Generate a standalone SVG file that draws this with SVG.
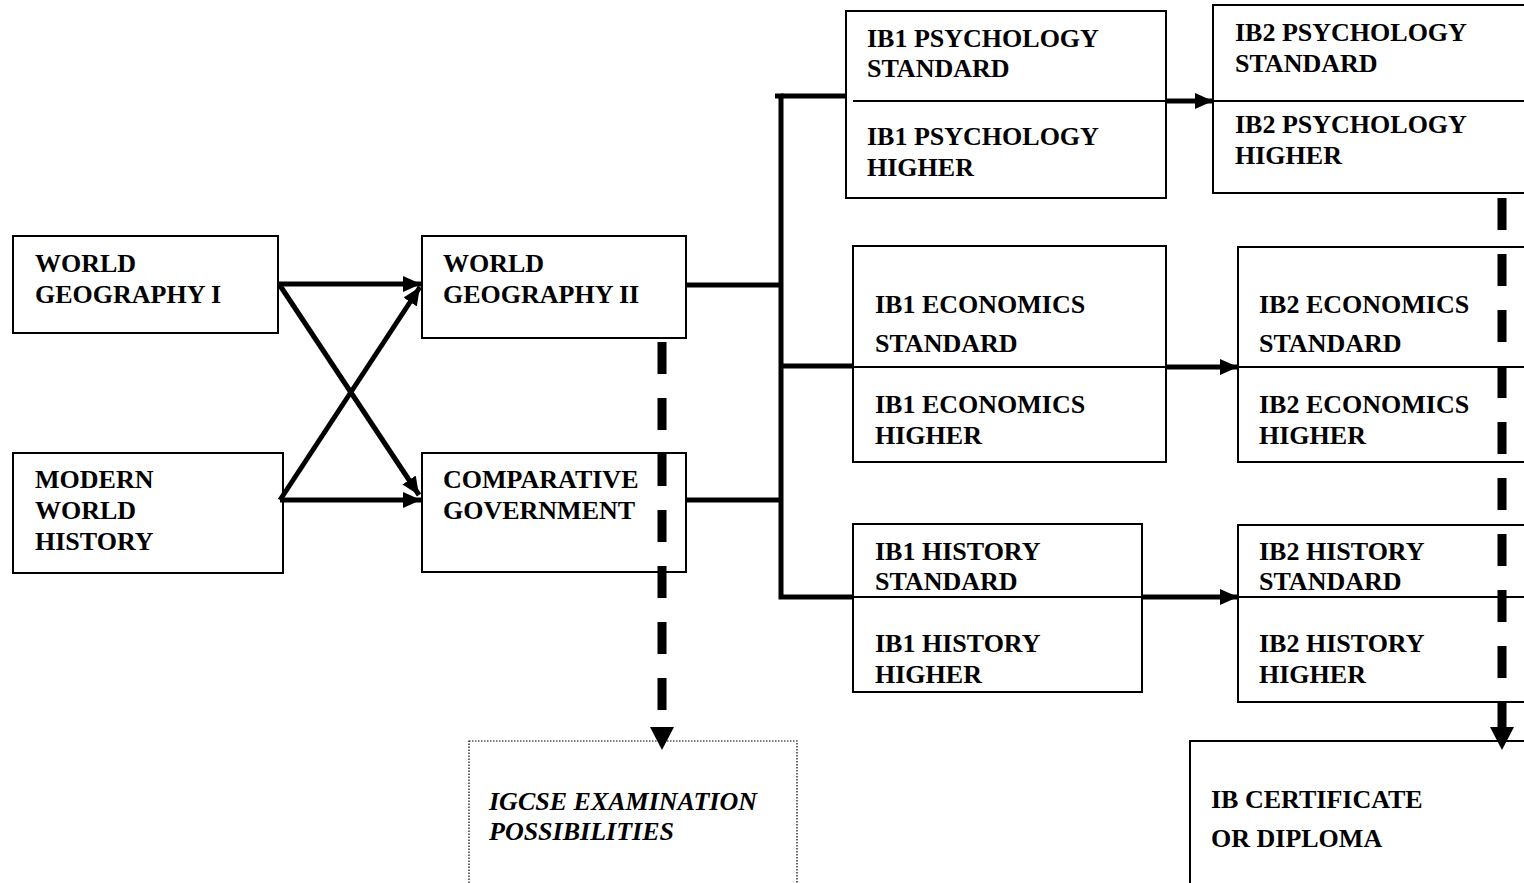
<svg xmlns="http://www.w3.org/2000/svg" width="1524" height="883" viewBox="0 0 1524 883">
<style>
.box{fill:#fff;stroke:#000;stroke-width:2}
.dot{fill:#fff;stroke:#000;stroke-width:1.2;stroke-dasharray:1.5 1.5}
.div{stroke:#000;stroke-width:2;fill:none}
.t{font-family:"Liberation Serif","Times New Roman",serif;font-weight:bold;font-size:26px;fill:#000}
.ti{font-style:italic}
.c{stroke:#000;stroke-width:5;fill:none}
.d{stroke:#000;stroke-width:9;fill:none;stroke-dasharray:32 24}
</style>
<defs>
<marker id="ah" markerUnits="userSpaceOnUse" markerWidth="18" markerHeight="16" refX="18" refY="8" orient="auto">
<path d="M0,0 L18,8 L0,16 z" fill="#000"/>
</marker>
<marker id="dh" markerUnits="userSpaceOnUse" markerWidth="24" markerHeight="24" refX="0" refY="12" orient="auto">
<path d="M0,0 L23,12 L0,24 z" fill="#000"/>
</marker>
</defs>
<rect width="1524" height="883" fill="#fff"/>

<g id="wg1"><rect class="box" x="13" y="236" width="265" height="97"/>
<text class="t" x="35" y="272">WORLD</text><text class="t" x="35" y="303">GEOGRAPHY I</text></g>

<g id="mwh"><rect class="box" x="13" y="453" width="270" height="120"/>
<text class="t" x="35" y="488">MODERN</text><text class="t" x="35" y="519">WORLD</text><text class="t" x="35" y="550">HISTORY</text></g>

<g id="wg2"><rect class="box" x="422" y="236" width="264" height="102"/>
<text class="t" x="443" y="272">WORLD</text><text class="t" x="443" y="303">GEOGRAPHY II</text></g>

<g id="cg"><rect class="box" x="422" y="453" width="264" height="119"/>
<text class="t" x="443" y="488">COMPARATIVE</text><text class="t" x="443" y="519">GOVERNMENT</text></g>

<g id="ib1psy"><rect class="box" x="846" y="11" width="320" height="187"/>
<line class="div" x1="853" y1="101" x2="1166" y2="101"/>
<text class="t" x="867" y="47">IB1 PSYCHOLOGY</text><text class="t" x="867" y="77">STANDARD</text>
<text class="t" x="867" y="145">IB1 PSYCHOLOGY</text><text class="t" x="867" y="176">HIGHER</text></g>

<g id="ib2psy"><rect class="box" x="1213" y="5" width="320" height="188"/>
<line class="div" x1="1213" y1="101" x2="1524" y2="101"/>
<text class="t" x="1235" y="41">IB2 PSYCHOLOGY</text><text class="t" x="1235" y="72">STANDARD</text>
<text class="t" x="1235" y="133">IB2 PSYCHOLOGY</text><text class="t" x="1235" y="164">HIGHER</text></g>

<g id="ib1eco"><rect class="box" x="853" y="246" width="313" height="216"/>
<line class="div" x1="853" y1="367" x2="1166" y2="367"/>
<text class="t" x="875" y="313">IB1 ECONOMICS</text><text class="t" x="875" y="352">STANDARD</text>
<text class="t" x="875" y="413">IB1 ECONOMICS</text><text class="t" x="875" y="444">HIGHER</text></g>

<g id="ib2eco"><rect class="box" x="1238" y="247" width="300" height="215"/>
<line class="div" x1="1238" y1="367" x2="1524" y2="367"/>
<text class="t" x="1259" y="313">IB2 ECONOMICS</text><text class="t" x="1259" y="352">STANDARD</text>
<text class="t" x="1259" y="413">IB2 ECONOMICS</text><text class="t" x="1259" y="444">HIGHER</text></g>

<g id="ib1his"><rect class="box" x="853" y="524" width="289" height="168"/>
<line class="div" x1="853" y1="597" x2="1142" y2="597"/>
<text class="t" x="875" y="560">IB1 HISTORY</text><text class="t" x="875" y="590">STANDARD</text>
<text class="t" x="875" y="652">IB1 HISTORY</text><text class="t" x="875" y="683">HIGHER</text></g>

<g id="ib2his"><rect class="box" x="1238" y="525" width="300" height="177"/>
<line class="div" x1="1238" y1="597" x2="1524" y2="597"/>
<text class="t" x="1259" y="560">IB2 HISTORY</text><text class="t" x="1259" y="590">STANDARD</text>
<text class="t" x="1259" y="652">IB2 HISTORY</text><text class="t" x="1259" y="683">HIGHER</text></g>

<g id="igcse"><rect class="dot" x="469" y="741" width="328" height="160"/>
<text class="t ti" x="489" y="810">IGCSE EXAMINATION</text><text class="t ti" x="489" y="840">POSSIBILITIES</text></g>

<g id="ibcert"><rect class="box" x="1190" y="741" width="350" height="160"/>
<text class="t" x="1211" y="808">IB CERTIFICATE</text><text class="t" x="1211" y="847">OR DIPLOMA</text></g>

<g id="connectors">
<line class="c" x1="278" y1="284" x2="421" y2="284" marker-end="url(#ah)"/>
<line class="c" x1="279" y1="284" x2="419" y2="495" marker-end="url(#ah)"/>
<line class="c" x1="280" y1="500" x2="421" y2="500" marker-end="url(#ah)"/>
<line class="c" x1="280" y1="500" x2="420" y2="287" marker-end="url(#ah)"/>
<line class="c" x1="686" y1="285" x2="781" y2="285"/>
<line class="c" x1="686" y1="500" x2="781" y2="500"/>
<path class="c" d="M775,96 L781,96 L781,597 L853,597"/>
<line class="c" x1="781" y1="96" x2="846" y2="96"/>
<line class="c" x1="781" y1="366" x2="853" y2="366"/>
<line class="c" x1="1166" y1="101" x2="1213" y2="101" marker-end="url(#ah)"/>
<line class="c" x1="1166" y1="367" x2="1238" y2="367" marker-end="url(#ah)"/>
<line class="c" x1="1142" y1="597" x2="1238" y2="597" marker-end="url(#ah)"/>
<line class="d" x1="662" y1="342" x2="662" y2="727" marker-end="url(#dh)"/>
<line class="d" x1="1502" y1="198" x2="1502" y2="727" marker-end="url(#dh)"/>
</g>
</svg>
